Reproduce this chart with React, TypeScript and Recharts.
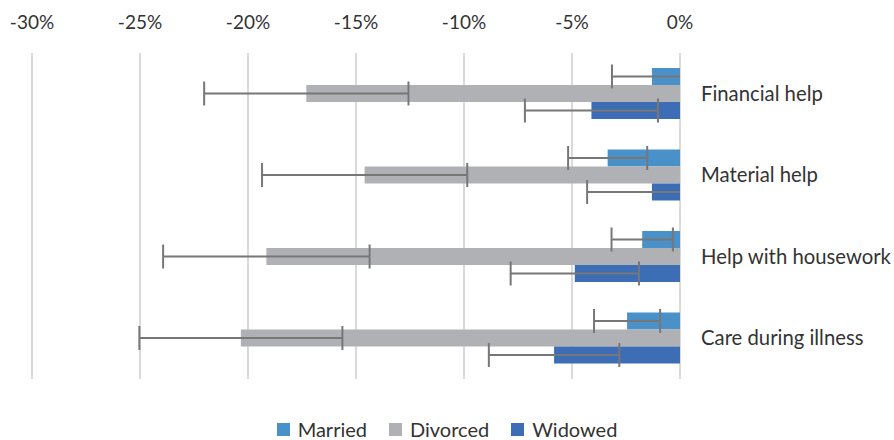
import React from 'react';
import * as R from 'recharts';
import { BarChart, Bar, XAxis, YAxis, CartesianGrid, ErrorBar, Legend } from 'recharts';

const categories = ['Financial help', 'Material help', 'Help with housework', 'Care during illness'];
const married = [-1.3, -3.35, -1.75, -2.45];
const marriedErr = [1.85, 1.83, 1.42, 1.53];
const divorced = [-17.3, -14.6, -19.15, -20.33];
const divorcedErr = [4.73, 4.75, 4.78, 4.7];
const widowed = [-4.1, -1.3, -4.87, -5.83];
const widowedErr = [3.08, 3.0, 2.97, 3.02];
const xTicks = [-30, -25, -20, -15, -10, -5, 0];

const seriesNames = ['Married', 'Divorced', 'Widowed'];
const seriesColors = ['#4A90C9', '#B0B1B4', '#3D6DB5'];

const data = categories.map((c, i) => ({
  category: c,
  married: married[i],
  marriedErr: marriedErr[i],
  divorced: divorced[i],
  divorcedErr: divorcedErr[i],
  widowed: widowed[i],
  widowedErr: widowedErr[i],
}));

const FONT = 'Lato, "Open Sans", sans-serif';
const TEXT = '#333333';

const XTick = (p: any) => (
  <text x={p.x} y={22} dy="0.35em" textAnchor="middle" fontFamily={FONT} fontSize={19} fill={TEXT}>
    {p.payload.value}%
  </text>
);

const YTick = (p: any) => (
  <text x={701} y={p.y} dy="0.35em" textAnchor="start" fontFamily={FONT} fontSize={20.3} fill={TEXT}>
    {p.payload.value}
  </text>
);

// clip path matching the library's plot area, used to cut error bars at the axis end (as in Excel)
const PlotClip = () => {
  const usePA: any = (R as any).usePlotArea;
  const pa = usePA ? usePA() : null;
  if (!pa) return null;
  return (
    <defs>
      <clipPath id="errClip">
        <rect x={pa.x - 20} y={pa.y} width={pa.width + 20} height={pa.height} />
      </clipPath>
    </defs>
  );
};

const LegendContent = () => (
  <div
    style={{
      height: 61,
      boxSizing: 'border-box',
      paddingTop: 40,
      display: 'flex',
      justifyContent: 'center',
      alignItems: 'center',
      fontFamily: FONT,
      fontSize: 20,
      color: TEXT,
      lineHeight: '17px',
    }}
  >
    {seriesNames.map((n, i) => (
      <div key={n} style={{ display: 'flex', alignItems: 'center', marginLeft: i === 0 ? 0 : 22 }}>
        <span style={{ width: 13, height: 13, background: seriesColors[i], display: 'inline-block', marginRight: 8 }} />
        <span>{n}</span>
      </div>
    ))}
  </div>
);

export default function App() {
  return (
    <div style={{ position: 'absolute', left: 0, top: 0, width: 894, height: 440, background: '#fff' }}>
      <style>{`.recharts-errorBars, .recharts-errorBar { clip-path: url(#errClip); }`}</style>
      <BarChart
        width={894}
        height={440}
        data={data}
        layout="vertical"
        margin={{ top: 0, right: 0, bottom: 0, left: 32 }}
        barGap={0}
      >
        <PlotClip />
        <CartesianGrid horizontal={false} vertical={true} stroke="#DADADA" strokeWidth={2} />
        <XAxis
          type="number"
          orientation="top"
          domain={[-30, 0]}
          ticks={xTicks}
          allowDataOverflow
          axisLine={false}
          tickLine={false}
          height={53}
          tick={<XTick />}
        />
        <YAxis
          type="category"
          dataKey="category"
          orientation="right"
          width={214}
          axisLine={false}
          tickLine={false}
          tick={<YTick />}
        />
        <Legend
          verticalAlign="bottom"
          content={<LegendContent />}
          wrapperStyle={{ left: 0, width: 894 }}
        />
        <Bar dataKey="married" name="Married" fill={seriesColors[0]} barSize={17} isAnimationActive={false}>
          <ErrorBar dataKey="marriedErr" direction="x" width={12} stroke="#777777" strokeWidth={2} />
        </Bar>
        <Bar dataKey="divorced" name="Divorced" fill={seriesColors[1]} barSize={17} isAnimationActive={false}>
          <ErrorBar dataKey="divorcedErr" direction="x" width={12} stroke="#777777" strokeWidth={2} />
        </Bar>
        <Bar dataKey="widowed" name="Widowed" fill={seriesColors[2]} barSize={17} isAnimationActive={false}>
          <ErrorBar dataKey="widowedErr" direction="x" width={12} stroke="#777777" strokeWidth={2} />
        </Bar>
      </BarChart>
    </div>
  );
}
